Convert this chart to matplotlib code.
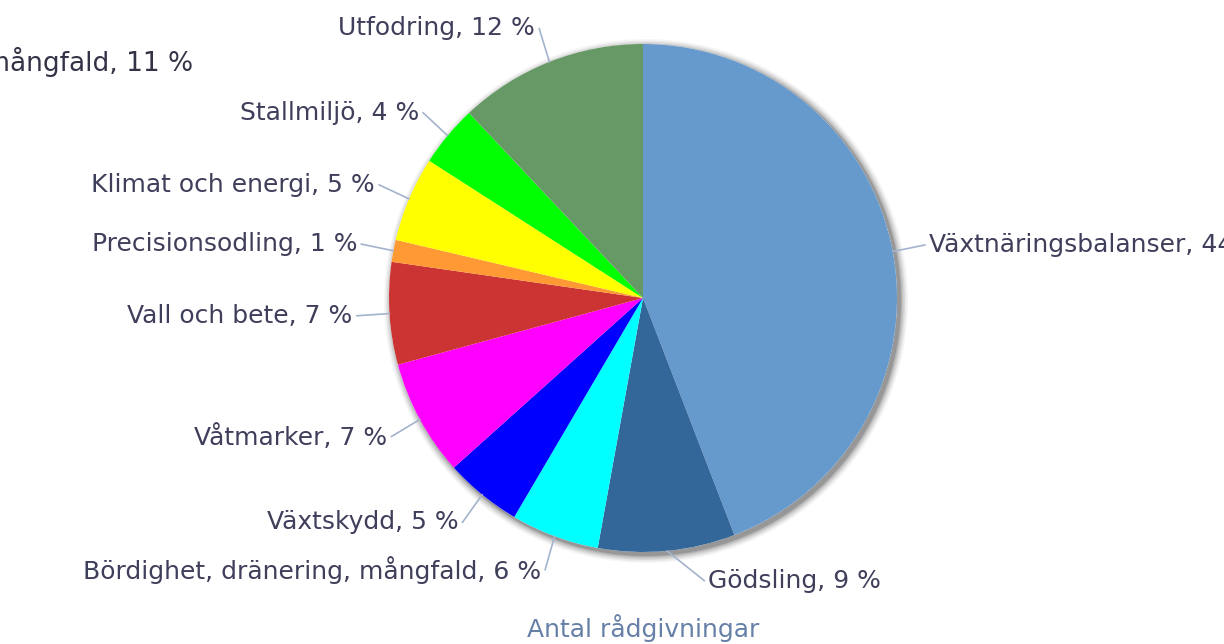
import numpy as np
import matplotlib
matplotlib.use("Agg")
import matplotlib.pyplot as plt
from matplotlib.patches import Circle

categories = ["Växtnäringsbalanser", "Gödsling", "Bördighet, dränering, mångfald",
              "Växtskydd", "Våtmarker", "Vall och bete", "Precisionsodling",
              "Klimat och energi", "Stallmiljö", "Utfodring"]
values = [44.1, 8.7, 5.6, 4.9, 7.4, 6.5, 1.4, 5.4, 3.9, 12.0]
pct_labels = ["44", "9", "6", "5", "7", "7", "1", "5", "4", "12"]
colors = ["#6699CC", "#336699", "#00FFFF", "#0000FF", "#FF00FF", "#CC3333",
          "#FF9933", "#FFFF00", "#00FF00", "#669966"]
subtitle = "Antal rådgivningar"
stray_label = "Bördighet, dränering, mångfald, 11 %"

W, H = 1224, 644
fig = plt.figure(figsize=(W / 100, H / 100), dpi=100)
ax = fig.add_axes([0, 0, 1, 1])

cx, cy, r = 643, 346, 254
text_color = "#3F3F5C"
conn_color = "#A3B3CC"
fs = 18

# shadow (offset to lower right)
for k, a in [(8, 0.035), (6.5, 0.05), (5, 0.07), (3.5, 0.09), (2, 0.11), (1, 0.13)]:
    ax.add_patch(Circle((cx + 3, cy - 3), r + k, color="#000000", alpha=a, lw=0, zorder=1))
ax.add_patch(Circle((cx, cy), r, color="white", lw=0, zorder=1.5))

wedges, _ = ax.pie(values, colors=colors, startangle=90, counterclock=False,
                   center=(cx, cy), radius=r, frame=True,
                   wedgeprops=dict(linewidth=0, zorder=2))
ax.set_xlim(0, W)
ax.set_ylim(0, H)
ax.set_aspect("equal")
ax.axis("off")

R = r + 36
for w, cat, p in zip(wedges, categories, pct_labels):
    mid = np.deg2rad((w.theta1 + w.theta2) / 2)
    ex, ey = cx + r * np.cos(mid), cy + r * np.sin(mid)
    s = np.clip(np.sin(mid), -0.975, 0.975)
    ly = cy + R * s
    dx = np.sqrt(max(R ** 2 - (ly - cy) ** 2, 0))
    right = np.cos(mid) >= 0
    lx = cx + dx if right else cx - dx
    ax.plot([ex, lx + (-3 if right else 3)], [ey, ly], color=conn_color, lw=1.2, zorder=3,
            solid_capstyle="round")
    txt = f"{cat}, {p} %"
    ax.text(lx + (1 if right else -1), ly, txt, ha="left" if right else "right",
            va="center", fontsize=fs, color=text_color, zorder=4)

ax.text(643, 16, subtitle, ha="center", va="center", fontsize=fs, color="#6680A8")
ax.text(193, 582, stray_label, ha="right", va="center", fontsize=19, color="#333348")

fig.savefig("out.png", dpi=100)
